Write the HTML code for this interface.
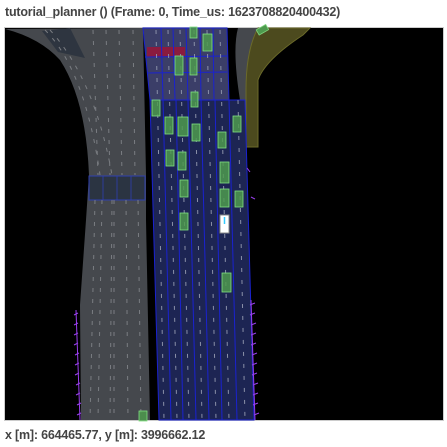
<!DOCTYPE html>
<html><head><meta charset="utf-8"><style>
body{margin:0;width:447px;height:447px;background:#fff;font-family:"Liberation Sans",sans-serif;overflow:hidden;position:relative}
.t{position:absolute;left:5px;top:5px;font-size:12.5px;font-weight:bold;color:#444;letter-spacing:-0.2px}
.b{position:absolute;left:5px;top:428px;font-size:12.5px;font-weight:bold;color:#444;letter-spacing:-0.2px}
svg{position:absolute;left:0;top:0}
</style></head><body>
<div class="t">tutorial_planner () (Frame: 0, Time_us: 1623708820400432)</div>
<svg width="447" height="447">
<rect x="4.5" y="27.5" width="439" height="393" fill="#000" stroke="#ccc"/>
<path d="M5,29 L143,28 L146,175 L146,220 L150,420 L81,420 L80,305 L86,220 L89,175 Q86,100 60,60 Q40,38 5,29Z" fill="#45484d"/>
<path d="M42,31 L70,28 L85,58 L58,52Z" fill="#2e3540"/>
<rect x="89" y="176" width="56" height="24" fill="#2b3442" stroke="#2f3fb0" stroke-width="1"/>
<g stroke="#2f3fb0" stroke-width="0.8"><line x1="103" y1="176" x2="103" y2="200"/><line x1="117" y1="176" x2="117" y2="200"/><line x1="131" y1="176" x2="131" y2="200"/></g>
<g stroke="#7a7d82" stroke-width="1" stroke-dasharray="4,7">
<line x1="93" y1="30" x2="98" y2="175"/><line x1="106" y1="30" x2="110" y2="175"/><line x1="119" y1="30" x2="122" y2="175"/><line x1="133" y1="30" x2="135" y2="175"/>
<path d="M45,30 Q85,70 100,175" fill="none"/><path d="M50,30 Q95,80 112,175" fill="none"/>
<line x1="95" y1="200" x2="90" y2="420"/><line x1="102" y1="200" x2="98" y2="420"/><line x1="112" y1="200" x2="110" y2="420"/><line x1="114" y1="200" x2="114" y2="420"/><line x1="126" y1="200" x2="128" y2="420"/><line x1="138" y1="200" x2="141" y2="420"/>
</g>
<path d="M238,28 L258,28 Q246,50 246,90 L246,100 L240,100 Q232,50 238,28Z" fill="#45484d"/>
<path d="M258,28 L310,28 L303,35 Q265,60 258,80 L258,147 L246,147 L246,90 Q246,50 258,28Z" fill="#4c4a1e" stroke="#6b6a2a" stroke-width="1"/>
<rect x="257" y="27" width="11" height="6" fill="#4e9a4e" stroke="#7fd47f" stroke-width="0.8" transform="rotate(-30 262 30)"/>
<path d="M143,28 L227,28 L229,100 L150,100Z" fill="#3b3e68"/>
<rect x="147" y="47" width="38" height="10" fill="#8a1b3f"/>
<g stroke="#1a22d0" stroke-width="1" fill="none">
<path d="M143,28 L227,28 L229,100 L150,100Z"/>
<line x1="145" y1="57" x2="227" y2="56"/><line x1="147" y1="73" x2="227" y2="72"/>
<line x1="161" y1="28" x2="163" y2="100"/><line x1="173" y1="28" x2="175" y2="100"/><line x1="186" y1="28" x2="188" y2="100"/><line x1="200" y1="28" x2="201" y2="100"/><line x1="213" y1="28" x2="214" y2="100"/>
</g>
<path d="M150,100 L245,100 L254,420 L159,420Z" fill="#1d2553"/>
<g stroke="#1a22d0" stroke-width="1" fill="none">
<path d="M150,100 L245,100 L254,420 L159,420Z"/>
<line x1="163" y1="100" x2="171" y2="420"/><line x1="176" y1="100" x2="183" y2="420"/><line x1="188" y1="100" x2="196" y2="420"/><line x1="201" y1="100" x2="209" y2="420"/><line x1="215" y1="100" x2="222" y2="420"/><line x1="229" y1="100" x2="237" y2="420"/>
</g>
<g stroke="#8a90a8" stroke-width="1" stroke-dasharray="4,8">
<line x1="156" y1="30" x2="164" y2="420"/><line x1="168" y1="30" x2="177" y2="420"/><line x1="180" y1="30" x2="189" y2="420"/><line x1="194" y1="30" x2="202" y2="420"/><line x1="207" y1="30" x2="216" y2="420"/><line x1="220" y1="30" x2="229" y2="420"/><line x1="238" y1="100" x2="245" y2="420"/>
</g>
<g fill="#4e9a4e" fill-opacity="0.85" stroke="#80e080" stroke-width="0.8">
<rect x="190" y="27" width="7" height="11"/><rect x="203" y="34" width="9" height="17"/>
<rect x="175" y="56" width="8" height="19"/><rect x="190" y="58" width="7" height="17"/>
<rect x="191" y="92" width="7" height="15"/><rect x="152" y="100" width="8" height="16"/>
<rect x="165" y="117" width="8" height="17"/><rect x="178" y="117" width="10" height="19"/>
<rect x="192" y="124" width="8" height="17"/><rect x="233" y="116" width="8" height="16"/>
<rect x="218" y="132" width="8" height="16"/><rect x="166" y="150" width="8" height="16"/>
<rect x="178" y="152" width="8" height="18"/><rect x="180" y="180" width="8" height="17"/>
<rect x="220" y="162" width="9" height="21"/><rect x="220" y="189" width="9" height="18"/>
<rect x="235" y="191" width="8" height="16"/><rect x="180" y="213" width="8" height="17"/>
<rect x="222" y="273" width="9" height="19"/><rect x="139" y="411" width="8" height="10"/>
</g>
<rect x="220" y="215" width="9" height="18" fill="#fff" stroke="#888"/>
<line x1="224.5" y1="217" x2="224.5" y2="224" stroke="#3cf" stroke-width="1.5"/>
<g stroke="#9a3ff0" stroke-width="1">
<path d="M76,310 L80,420 M74,315 l4,-2 M74,325 l4,-2 M74,335 l4,-2 M74,345 l4,-2 M75,355 l4,-2 M75,365 l4,-2 M75,375 l4,-2 M76,385 l4,-2 M76,395 l4,-2 M77,405 l4,-2 M77,415 l4,-2"/>
<path d="M251,300 L255,420 M250,305 l5,-2 M250,315 l5,-2 M251,325 l5,-2 M251,335 l5,-2 M251,345 l5,-2 M252,355 l5,-2 M252,365 l5,-2 M252,375 l5,-2 M253,385 l5,-2 M253,395 l5,-2 M253,405 l5,-2 M254,415 l5,-2"/>
<path d="M247,168 l3,4 M251,197 l4,2"/>
</g>
</svg>
<div class="b">x [m]: 664465.77, y [m]: 3996662.12</div>
</body></html>
